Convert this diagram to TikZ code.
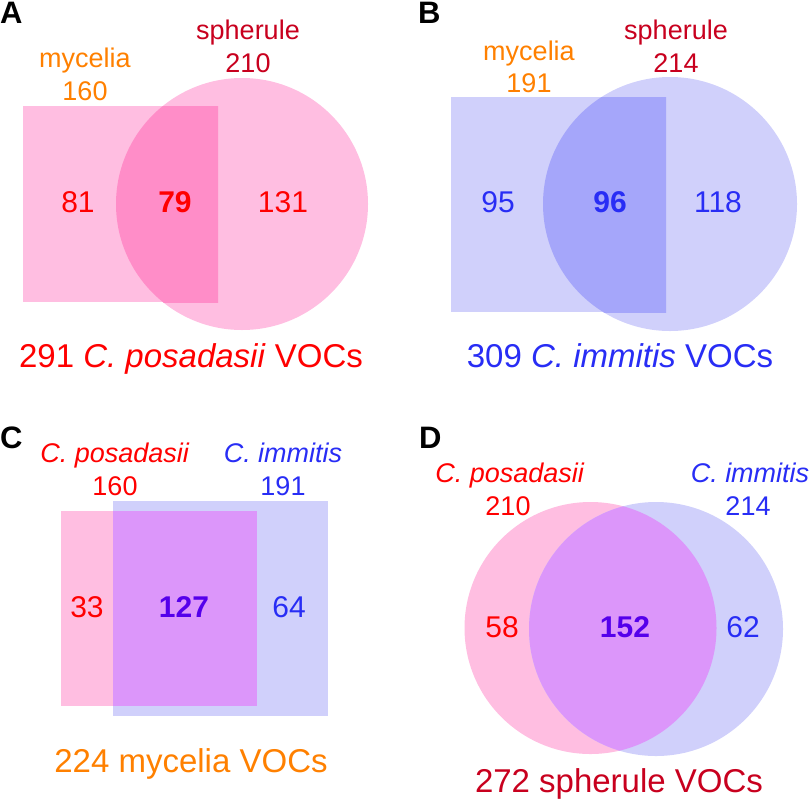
\documentclass[tikz,border=0pt]{standalone}
\usepackage{fontspec}
\setmainfont{Liberation Sans}
\usepackage{tikz}
\usepackage{xcolor}

\definecolor{pinkone}{RGB}{255,190,225}
\definecolor{pinktwo}{RGB}{255,141,200}
\definecolor{blueone}{RGB}{208,208,251}
\definecolor{bluetwo}{RGB}{165,166,250}
\definecolor{mixfill}{RGB}{220,150,250}
\definecolor{redtxt}{RGB}{255,0,0}
\definecolor{darkredtxt}{RGB}{200,0,30}
\definecolor{orangetxt}{RGB}{255,128,0}
\definecolor{bluetxt}{RGB}{40,45,245}
\definecolor{purpletxt}{RGB}{85,0,235}

\begin{document}
\begin{tikzpicture}[x=1pt,y=1pt,
  every node/.style={inner sep=0pt,anchor=base},
  panel/.style={anchor=base west,font=\fontsize{31}{36}\selectfont\bfseries},
  setlabel/.style={font=\fontsize{27}{32}\selectfont},
  count/.style={font=\fontsize{30}{36}\selectfont},
  shared/.style={font=\fontsize{30}{36}\selectfont\bfseries},
  total/.style={font=\fontsize{33}{40}\selectfont}]
\useasboundingbox (0,0) rectangle (810,-801);
% A: C. posadasii, mycelia vs spherule
\fill[pinkone] (23,-106) rectangle (218,-302);
\fill[pinkone] (242,-204) circle (126);
\begin{scope}
\clip (23,-106) rectangle (218,-302);
\fill[pinktwo] (242,-204) circle (126);
\end{scope}
\node[panel] (pA) at (0,-23) {A};
\node[setlabel,orangetxt] (myA) at (85,-67) {mycelia};
\node[setlabel,orangetxt] (myAn) at (85,-100) {160};
\node[setlabel,darkredtxt] (spA) at (248,-39) {spherule};
\node[setlabel,darkredtxt] (spAn) at (248,-72) {210};
\node[count,redtxt] (onlyMyA) at (78,-212) {81};
\node[shared,redtxt] (bothA) at (175,-212) {79};
\node[count,redtxt] (onlySpA) at (283,-212) {131};
\node[total,redtxt] (totA) at (191,-367) {291 \textit{C. posadasii} VOCs};
% B: C. immitis, mycelia vs spherule
\fill[blueone] (451,-97) rectangle (666,-312);
\fill[blueone] (670,-204) circle (127);
\begin{scope}
\clip (451,-97) rectangle (666,-312);
\fill[bluetwo] (670,-204) circle (127);
\end{scope}
\node[panel] (pB) at (418,-23) {B};
\node[setlabel,orangetxt] (myB) at (529,-60) {mycelia};
\node[setlabel,orangetxt] (myBn) at (529,-92) {191};
\node[setlabel,darkredtxt] (spB) at (676,-39) {spherule};
\node[setlabel,darkredtxt] (spBn) at (676,-72) {214};
\node[count,bluetxt] (onlyMyB) at (498,-212) {95};
\node[shared,bluetxt] (bothB) at (610,-212) {96};
\node[count,bluetxt] (onlySpB) at (718,-212) {118};
\node[total,bluetxt] (totB) at (620,-367) {309 \textit{C. immitis} VOCs};
% C: mycelia, posadasii vs immitis
\fill[pinkone] (61,-511) rectangle (257,-706);
\fill[blueone] (113,-501) rectangle (328,-716);
\fill[mixfill] (113,-511) rectangle (257,-706);
\node[panel] (pC) at (0,-448) {C};
\node[setlabel,redtxt] (cpC) at (115,-462) {\textit{C. posadasii}};
\node[setlabel,redtxt] (cpCn) at (115,-495) {160};
\node[setlabel,bluetxt] (ciC) at (283,-462) {\textit{C. immitis}};
\node[setlabel,bluetxt] (ciCn) at (283,-495) {191};
\node[count,redtxt] (onlyCpC) at (87,-617) {33};
\node[shared,purpletxt] (bothC) at (184,-617) {127};
\node[count,bluetxt] (onlyCiC) at (289,-617) {64};
\node[total,orangetxt] (totC) at (191,-772) {224 mycelia VOCs};
% D: spherule, posadasii vs immitis
\fill[pinkone] (590.5,-628) circle (126);
\fill[blueone] (656,-629) circle (127);
\begin{scope}
\clip (590.5,-628) circle (126);
\fill[mixfill] (656,-629) circle (127);
\end{scope}
\node[panel] (pD) at (419,-448) {D};
\node[setlabel,redtxt] (cpD) at (510,-482) {\textit{C. posadasii}};
\node[setlabel,redtxt] (cpDn) at (508,-515) {210};
\node[setlabel,bluetxt] (ciD) at (750,-482) {\textit{C. immitis}};
\node[setlabel,bluetxt] (ciDn) at (748,-515) {214};
\node[count,redtxt] (onlyCpD) at (502,-637) {58};
\node[shared,purpletxt] (bothD) at (625,-637) {152};
\node[count,bluetxt] (onlyCiD) at (743,-637) {62};
\node[total,darkredtxt] (totD) at (619,-792) {272 spherule VOCs};
\end{tikzpicture}
\end{document}
